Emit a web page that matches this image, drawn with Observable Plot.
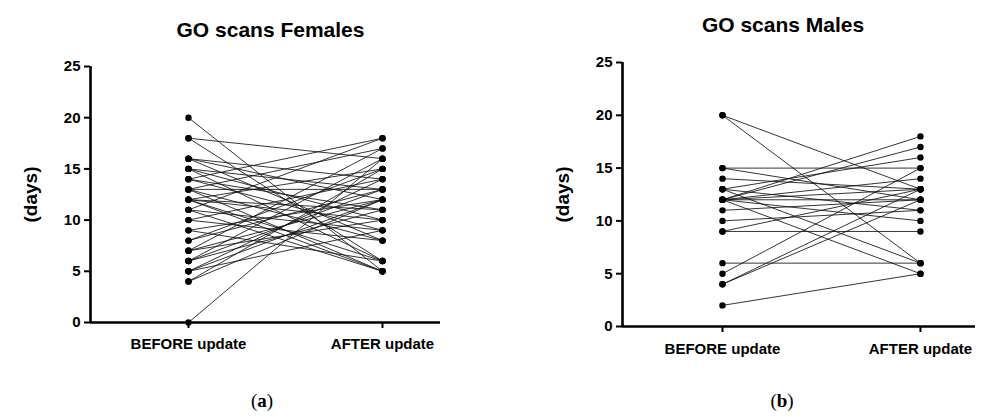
<!DOCTYPE html>
<html>
<head>
<meta charset="utf-8">
<script src="https://cdn.jsdelivr.net/npm/d3@7"></script>
<script src="https://cdn.jsdelivr.net/npm/@observablehq/plot@0.6"></script>
<style>
  html, body { margin: 0; padding: 0; background: #fff; }
  #wrap { position: relative; width: 1008px; height: 417px; overflow: hidden; }
  .panel { position: absolute; top: 0; }
  .cap { position: absolute; font-family: "Liberation Serif", "DejaVu Serif", serif; font-size: 19px; color: #000; transform: translateX(-50%); }
</style>
</head>
<body>
<div id="wrap">
  <div id="left" class="panel" style="left:0px"></div>
  <div id="right" class="panel" style="left:504px"></div>
  <div class="cap" style="left:262px; top:390px">(<b>a</b>)</div>
  <div class="cap" style="left:782px; top:390px">(<b>b</b>)</div>
</div>
<script>
const categories = ["BEFORE update", "AFTER update"];
const yTicks = [0, 5, 10, 15, 20, 25];

const femaleBefore = [0, 4, 4, 5, 5, 5, 6, 6, 6, 7, 7, 7, 8, 8, 9, 9, 10, 10, 11, 11, 11, 12, 12, 12, 12, 12, 13, 13, 13, 13, 14, 14, 14, 15, 15, 15, 16, 16, 16, 18, 18, 20];
const femaleAfter  = [16, 12, 15, 12, 14, 9, 11, 13, 16, 12, 10, 17, 13, 15, 12, 6, 14, 8, 18, 9, 5, 5, 10, 6, 15, 11, 17, 8, 13, 5, 18, 11, 9, 13, 6, 10, 14, 8, 12, 16, 6, 5];

const maleBefore = [20, 20, 15, 15, 14, 13, 13, 13, 12, 12, 12, 12, 12, 12, 12, 11, 10, 9, 9, 6, 5, 4, 4, 2];
const maleAfter  = [13, 6, 15, 12, 13, 16, 11, 6, 18, 17, 14, 13, 12, 10, 5, 12, 11, 13, 9, 6, 15, 13, 12, 5];

function panel(o) {
  const rows = o.before.map((b, i) => ({b, a: o.after[i]}));
  const pts = rows.map(r => ({x: 0, y: r.b})).concat(rows.map(r => ({x: 1, y: r.a})));
  return Plot.plot({
    width: 504,
    height: 417,
    marginLeft: o.marginLeft,
    marginRight: o.marginRight,
    marginTop: o.marginTop,
    marginBottom: o.marginBottom,
    style: {fontFamily: "'Liberation Sans', Arial, sans-serif", background: "transparent", color: "#000"},
    x: {type: "linear", domain: o.xDomain},
    y: {domain: [0, 25]},
    marks: [
      Plot.link(rows, {x1: () => 0, x2: () => 1, y1: "b", y2: "a", stroke: "#111", strokeWidth: 0.85}),
      Plot.dot(pts, {x: "x", y: "y", r: 3.2, fill: "#000"}),
      Plot.ruleX([o.xDomain[0]], {y1: 0, y2: 25, stroke: "#000", strokeWidth: 2.6}),
      Plot.ruleY([0], {x1: o.xDomain[0], x2: o.xDomain[1], stroke: "#000", strokeWidth: 2.6}),
      Plot.axisY({ticks: yTicks, tickSize: 6, tickPadding: 4, fontSize: 15, fontWeight: "bold", strokeWidth: 2, label: null}),
      Plot.axisX({ticks: [0, 1], tickFormat: i => categories[i], tickSize: 6, tickPadding: o.xPad, fontSize: 15, fontWeight: "bold", strokeWidth: 2, label: null}),
      Plot.text(["(days)"], {text: d => d, frameAnchor: "left", textAnchor: "middle", lineAnchor: "middle", dx: o.labelDx, rotate: -90, fontSize: 19, fontWeight: "bold"}),
      Plot.text([o.title], {text: d => d, frameAnchor: "top", textAnchor: "middle", lineAnchor: "middle", dx: o.titleDx, dy: o.titleDy, fontSize: 21, fontWeight: "bold"})
    ]
  });
}

document.getElementById("left").appendChild(panel({
  before: femaleBefore, after: femaleAfter, title: "GO scans Females",
  marginLeft: 90, marginRight: 64, marginTop: 66, marginBottom: 95,
  xDomain: [-0.505, 1.299], xPad: 10, labelDx: -60, titleDx: 5, titleDy: -36
}));
document.getElementById("right").appendChild(panel({
  before: maleBefore, after: maleAfter, title: "GO scans Males",
  marginLeft: 118, marginRight: 33, marginTop: 62, marginBottom: 91,
  xDomain: [-0.505, 1.278], xPad: 11, labelDx: -60, titleDx: -16, titleDy: -37
}));
</script>
</body>
</html>
